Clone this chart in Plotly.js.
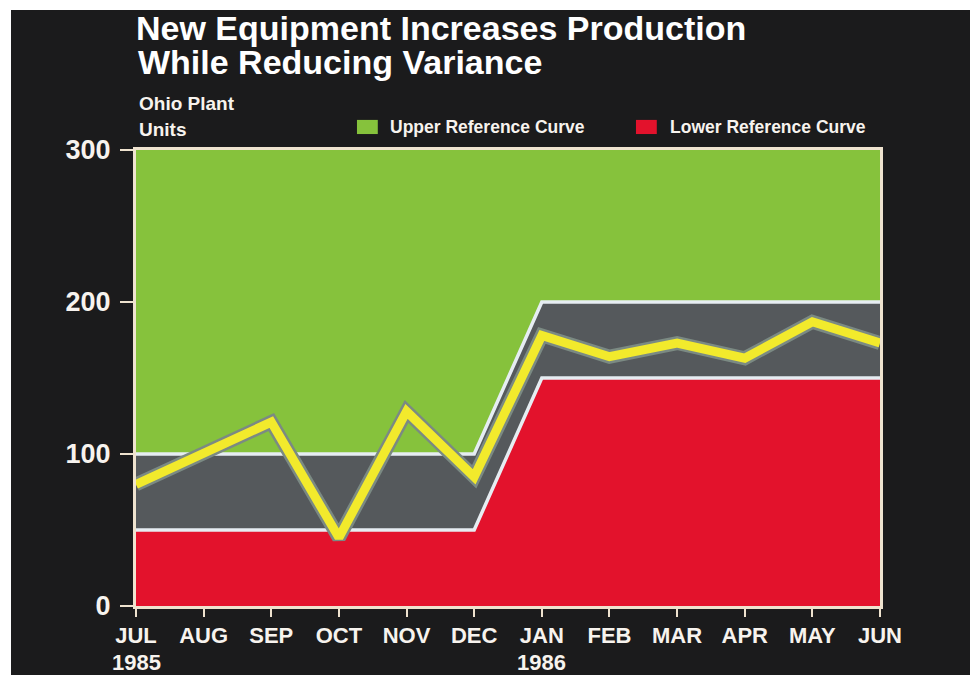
<!DOCTYPE html>
<html>
<head>
<meta charset="utf-8">
<script src="https://cdn.plot.ly/plotly-3.0.1.min.js"></script>
<style>
  html, body { margin: 0; padding: 0; background: #ffffff; width: 970px; height: 679px; overflow: hidden; }
  #chart { position: absolute; left: 11px; top: 10px; width: 959px; height: 665px; }
</style>
</head>
<body>
<div id="chart"></div>
<script>
// ---- data ----
var months = ['JUL', 'AUG', 'SEP', 'OCT', 'NOV', 'DEC', 'JAN', 'FEB', 'MAR', 'APR', 'MAY', 'JUN'];
var yearLabels = [['JUL', '1985'], ['JAN', '1986']];
var production = [80, 100, 121, 45, 128, 85, 178, 164, 173, 163, 187, 173];
var upperRef = [100, 100, 100, 100, 100, 100, 200, 200, 200, 200, 200, 200];
var lowerRef = [50, 50, 50, 50, 50, 50, 150, 150, 150, 150, 150, 150];
var yTicks = [0, 100, 200, 300];

// ---- styles ----
var FONT = '"Liberation Sans", Arial, Helvetica, sans-serif';
var TXT = '#f7f3ee';
var GREEN = '#86c23c';
var RED = '#e3122c';
var GRAY = '#55595c';
var REFLINE = '#e6edf2';
var YELLOW = '#f2ea2c';
var OUTLINE = '#7b8a83';
var BG = '#1b1b1c';
var FRAME = '#efe3cf';

var traces = [
  {
    x: months, y: lowerRef, type: 'scatter', mode: 'lines',
    fill: 'tozeroy', fillcolor: RED,
    line: { color: REFLINE, width: 3.5 },
    name: 'Lower Reference Curve', showlegend: false, hoverinfo: 'skip'
  },
  {
    x: months, y: upperRef, type: 'scatter', mode: 'lines',
    fill: 'tonexty', fillcolor: GRAY,
    line: { color: REFLINE, width: 3.5 },
    name: 'Upper Reference Curve', showlegend: false, hoverinfo: 'skip'
  },
  {
    x: months, y: production, type: 'scatter', mode: 'lines',
    line: { color: OUTLINE, width: 14 },
    showlegend: false, hoverinfo: 'skip'
  },
  {
    x: months, y: production, type: 'scatter', mode: 'lines',
    line: { color: YELLOW, width: 9 },
    name: 'Production', showlegend: false
  }
];

var annotations = [
  { text: 'While Reducing Variance', xref: 'paper', yref: 'paper', x: 0, y: 1.193, xanchor: 'left', yanchor: 'middle',
    showarrow: false, font: { family: FONT, size: 34, color: '#ffffff', weight: 'bold' } },
  { text: 'Ohio Plant', xref: 'paper', yref: 'paper', x: 0.002, y: 1.103, xanchor: 'left', yanchor: 'middle',
    showarrow: false, font: { family: FONT, size: 19, color: TXT, weight: 'bold' } },
  { text: 'Units', xref: 'paper', yref: 'paper', x: 0.002, y: 1.046, xanchor: 'left', yanchor: 'middle',
    showarrow: false, font: { family: FONT, size: 19, color: TXT, weight: 'bold' } },
  { text: 'Upper Reference Curve', xref: 'paper', yref: 'paper', x: 0.339, y: 1.050, xanchor: 'left', yanchor: 'middle',
    showarrow: false, font: { family: FONT, size: 17.5, color: TXT, weight: 'bold' } },
  { text: 'Lower Reference Curve', xref: 'paper', yref: 'paper', x: 0.715, y: 1.050, xanchor: 'left', yanchor: 'middle',
    showarrow: false, font: { family: FONT, size: 17.5, color: TXT, weight: 'bold' } }
];
yearLabels.forEach(function (p) {
  annotations.push({ text: p[1], xref: 'x', yref: 'paper', x: p[0], y: -0.123, xanchor: 'center', yanchor: 'middle',
    showarrow: false, font: { family: FONT, size: 22, color: TXT, weight: 'bold' } });
});

var layout = {
  width: 959, height: 665,
  margin: { l: 125, r: 90, t: 140, b: 69 },
  paper_bgcolor: BG,
  plot_bgcolor: GREEN,
  showlegend: false,
  font: { family: FONT, color: TXT },
  title: {
    text: 'New Equipment Increases Production',
    font: { family: FONT, size: 34, color: '#ffffff', weight: 'bold' },
    xref: 'paper', x: 0, xanchor: 'left',
    yref: 'container', y: 0.991, yanchor: 'top'
  },
  xaxis: {
    type: 'category',
    categoryorder: 'array', categoryarray: months,
    range: [0, months.length - 1],
    tickmode: 'array', tickvals: months, ticktext: months,
    ticks: 'outside', ticklen: 8, tickwidth: 2, tickcolor: FRAME,
    showline: true, linecolor: FRAME, linewidth: 3, mirror: true,
    showgrid: false, zeroline: false,
    tickfont: { family: FONT, size: 22, color: TXT, weight: 'bold' }
  },
  yaxis: {
    range: [0, 300],
    tickmode: 'array', tickvals: yTicks,
    ticks: 'outside', ticklen: 13, tickwidth: 2, tickcolor: FRAME,
    ticklabelstandoff: 4,
    showline: true, linecolor: FRAME, linewidth: 3, mirror: true,
    showgrid: false, zeroline: false,
    tickfont: { family: FONT, size: 27, color: TXT, weight: 'bold' }
  },
  shapes: [
    { type: 'rect', xref: 'paper', yref: 'paper', x0: 0.297, x1: 0.325, y0: 1.035, y1: 1.066,
      fillcolor: GREEN, line: { width: 0 } },
    { type: 'rect', xref: 'paper', yref: 'paper', x0: 0.672, x1: 0.700, y0: 1.035, y1: 1.066,
      fillcolor: RED, line: { width: 0 } }
  ],
  annotations: annotations
};

Plotly.newPlot('chart', traces, layout, { displayModeBar: false, staticPlot: true });
</script>
</body>
</html>
